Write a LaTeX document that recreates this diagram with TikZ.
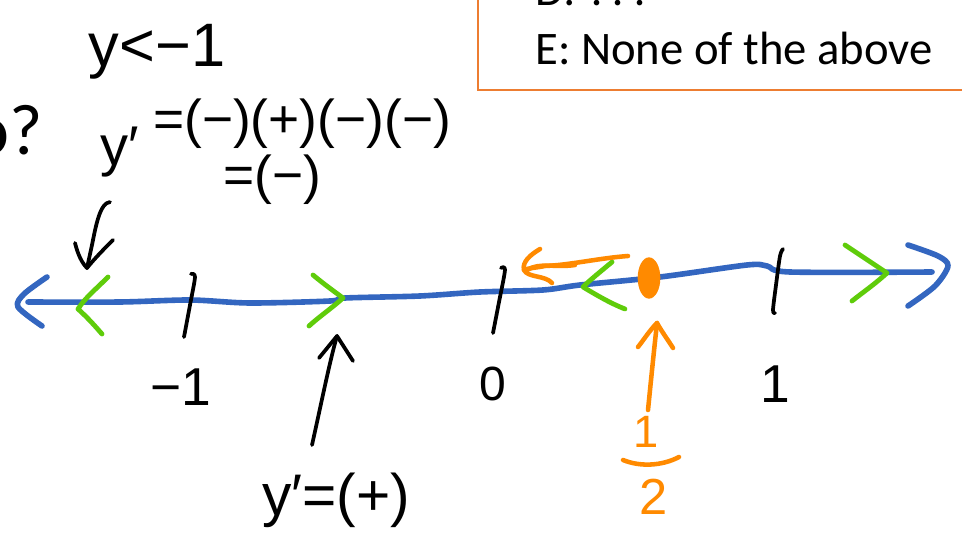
\documentclass[tikz,border=0pt]{standalone}
\usepackage{fontspec}
\setmainfont{Liberation Sans}
\newfontfamily\calfont{Carlito}
\usetikzlibrary{shapes.geometric}
\definecolor{axisblue}{HTML}{3366C0}
\definecolor{chevgreen}{HTML}{5FCC0A}
\definecolor{penorange}{HTML}{FF8A00}
\definecolor{boxorange}{HTML}{ED7D31}
\tikzset{
  ink/.style={black, line width=2.8pt, line cap=round, line join=round},
  axisline/.style={axisblue, line width=4.2pt, line cap=round, line join=round},
  chev/.style={chevgreen, line width=3.6pt, line cap=round, line join=round},
  orng/.style={penorange, line width=3.4pt, line cap=round, line join=round},
  hw/.style={inner sep=0pt, font=\fontsize{#1}{#1}\selectfont},
  hwo/.style={hw=#1, text=penorange},
  typed/.style={inner sep=0pt, font=\calfont\fontsize{#1}{#1}\selectfont}
}
\begin{document}
\begin{tikzpicture}[x=0.75pt,y=-0.75pt]
\useasboundingbox (0,0) rectangle (962,548);
\clip (0,0) rectangle (962,548);
\fill[white] (0,0) rectangle (962,548);

% answer box
\draw[boxorange, line width=1.6pt] (478,-20) rectangle (975,90);
\node[typed=35pt, anchor=base west] (optD) at (535,6) {D: ???};
\node[typed=35pt, anchor=base west] (optE) at (535,65) {E: None of the above};

% cut heading
\node[typed=54pt, anchor=base east] (q) at (43,155) {o?};

% handwritten labels
\node[hw=46pt] (ylt) at (157,52) {y<−1};
\node[hw=42pt] (yp) at (120,152) {y′};
\node[hw=40pt] (prod) at (302,124) {=(−)(+)(−)(−)};
\node[hw=40pt] (res) at (272,180) {=(−)};
\node[hw=40pt] (lm1) at (181,387) {−1};
\node[hw=36pt] (l0) at (493,384) {0};
\node[hw=40pt] (l1) at (775,384) {1};
\node[hw=44pt] (ypp) at (336,500) {y′=(+)};
\node[hwo=34pt] (half1) at (646,432) {1};
\node[hwo=38pt] (half2) at (654,497) {2};
\draw[orng] (623,460) .. controls (640,467) and (662,466) .. (679,457);

% axis
\draw[axisline] plot[smooth] coordinates {(28,302) (120,302) (190,300) (250,303) (330,301) (345,298) (420,296) (480,292) (543,290) (580,285) (660,277) (747,265) (767,266) (790,272) (932,272)};
\draw[axisline] plot[smooth] coordinates {(47,277) (24,294) (18,307) (42,326)};
\draw[axisline] plot[smooth] coordinates {(908,245) (938,256) (948,266) (935,286) (908,306)};

% ticks
\draw[ink] plot[smooth] coordinates {(191,274) (195,277) (190,305) (184,337)};
\draw[ink] plot[smooth] coordinates {(501,268) (505,270) (499,302) (493,333)};
\draw[ink] plot[smooth] coordinates {(783,249) (780,256) (776,285) (773,310) (775,313)};

% green chevrons
\draw[chev] (108,277) .. controls (95,290) and (85,298) .. (78,309) .. controls (88,318) and (95,326) .. (102,334);
\draw[chev] (313,275) .. controls (325,285) and (335,292) .. (343,298) .. controls (332,308) and (320,316) .. (309,326);
\draw[chev] (612,262) .. controls (600,272) and (590,280) .. (583,287) .. controls (598,296) and (612,304) .. (625,309);
\draw[chev] (845,245) .. controls (860,255) and (875,265) .. (887,273) .. controls (875,284) and (862,293) .. (852,301);

% down arrow at left
\coordinate (dtop) at (110,202);
\coordinate (dtip) at (87,268);
\draw[ink] (dtop) .. controls (100,203) and (96,225) .. (92,245) -- (dtip);
\draw[ink] (75,243) .. controls (78,255) and (82,263) .. (dtip) .. controls (95,258) and (105,248) .. (113,240);

% up arrow to y'=(+)
\coordinate (ubot) at (312,445);
\coordinate (utip) at (337,336);
\draw[ink] (ubot) .. controls (322,400) and (330,360) .. (utip);
\draw[ink] (319,358) -- (utip) -- (353,361);

% orange point and arrows
\node[ellipse, fill=penorange, inner sep=0pt, minimum width=17pt, minimum height=31pt] (pt) at (649,278) {};
\coordinate (obot) at (648,410);
\coordinate (otip) at (657,323);
\draw[orng] (obot) .. controls (651,380) and (654,350) .. (otip);
\draw[orng] (638,347) .. controls (645,338) and (650,330) .. (otip) .. controls (662,332) and (668,340) .. (673,348);
\coordinate (lstart) at (628,256);
\coordinate (ltip) at (524,270);
\draw[orng] (lstart) .. controls (600,258) and (570,265) .. (545,266) .. controls (535,268) and (528,268) .. (ltip);
\draw[orng] (540,249) .. controls (530,255) and (522,262) .. (ltip) .. controls (528,278) and (545,275) .. (552,283);
\draw[orng] (527,270) .. controls (540,262) and (555,268) .. (575,265);
\end{tikzpicture}
\end{document}
